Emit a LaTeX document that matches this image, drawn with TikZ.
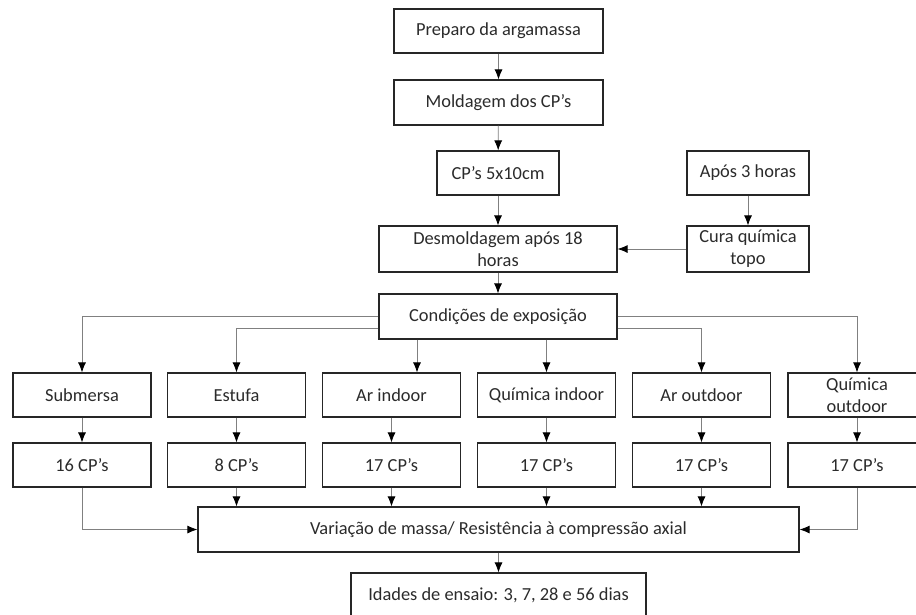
\documentclass[tikz,border=0pt]{standalone}
\usepackage{fontspec}
\setmainfont{Carlito}
\usetikzlibrary{arrows.meta}
\definecolor{boxline}{HTML}{262626}
\definecolor{conline}{HTML}{808080}
\definecolor{txt}{HTML}{2b2b2b}
\tikzset{
    box/.style={draw=boxline, line width=1.2pt, fill=white, text=txt, align=center,
        inner sep=2pt, font=\fontsize{18.4}{22}\selectfont},
    arr/.style={draw=conline, line width=0.8pt, -{Latex[length=10pt,width=8pt,black]}}
}
\begin{document}
\begin{tikzpicture}[x=1pt,y=-1pt]
    \clip (0,0) rectangle (916,614);
    \fill[white] (0,0) rectangle (916,614);
    % etapas iniciais
    \node[box, minimum width=209, minimum height=44] (prep) at (498.5,31) {Preparo da argamassa};
    \node[box, minimum width=209, minimum height=45] (mold) at (498.5,102.5) {Moldagem dos CP’s};
    \node[box, minimum width=122, minimum height=44] (cp) at (498,173) {CP’s 5x10cm};
    \node[box, minimum width=122, minimum height=44] (apos) at (748,173) {Após 3 horas};
    \node[box, minimum width=238, minimum height=46] (desm) at (498,249) {Desmoldagem após 18\\horas};
    \node[box, minimum width=122, minimum height=46] (cura) at (748,249) {Cura química\\topo};
    \node[box, minimum width=238, minimum height=45] (cond) at (498,316.5) {Condições de exposição};
    % condicoes e quantidades
    \foreach \n/\x/\t/\q in {sub/82/Submersa/16, est/236.5/Estufa/8, arin/391.5/Ar indoor/17,
        qin/546.5/Química indoor/17, arout/701.5/Ar outdoor/17, qout/857/Química\\outdoor/17} {
        \node[box, minimum width=138, minimum height=44] (\n) at (\x,395) {\t};
        \node[box, minimum width=138, minimum height=44] (c\n) at (\x,465) {\q{} CP’s};
    }
    \node[box, minimum width=601, minimum height=45] (var) at (498.5,529.5) {Variação de massa/ Resistência à compressão axial};
    \node[box, minimum width=295, minimum height=45] (idade) at (498.5,595.5) {Idades de ensaio: 3, 7, 28 e 56 dias};
    % ligacoes
    \draw[arr] (prep) -- (mold);
    \draw[arr] (mold) -- (cp);
    \draw[arr] (cp) -- (desm);
    \draw[arr] (apos) -- (cura);
    \draw[arr] (cura) -- (desm);
    \draw[arr] (desm) -- (cond);
    \draw[arr] (cond.west) -| (sub.north);
    \draw[arr] ([yshift=-12]cond.west) -| (est.north);
    \draw[arr] ([xshift=-81]cond.south) -- ([xshift=-81]cond.south |- arin.north);
    \draw[arr] (cond.south -| qin.north) -- (qin.north);
    \draw[arr] ([yshift=-12]cond.east) -| (arout.north);
    \draw[arr] (cond.east) -| (qout.north);
    \foreach \n in {sub,est,arin,qin,arout,qout}
    \draw[arr] (\n) -- (c\n);
    \draw[arr] (csub.south) |- (var.west);
    \foreach \n in {est,arin,qin,arout}
    \draw[arr] (c\n.south) -- (c\n.south |- var.north);
    \draw[arr] (cqout.south) |- (var.east);
    \draw[arr] (var) -- (idade);
\end{tikzpicture}
\end{document}
